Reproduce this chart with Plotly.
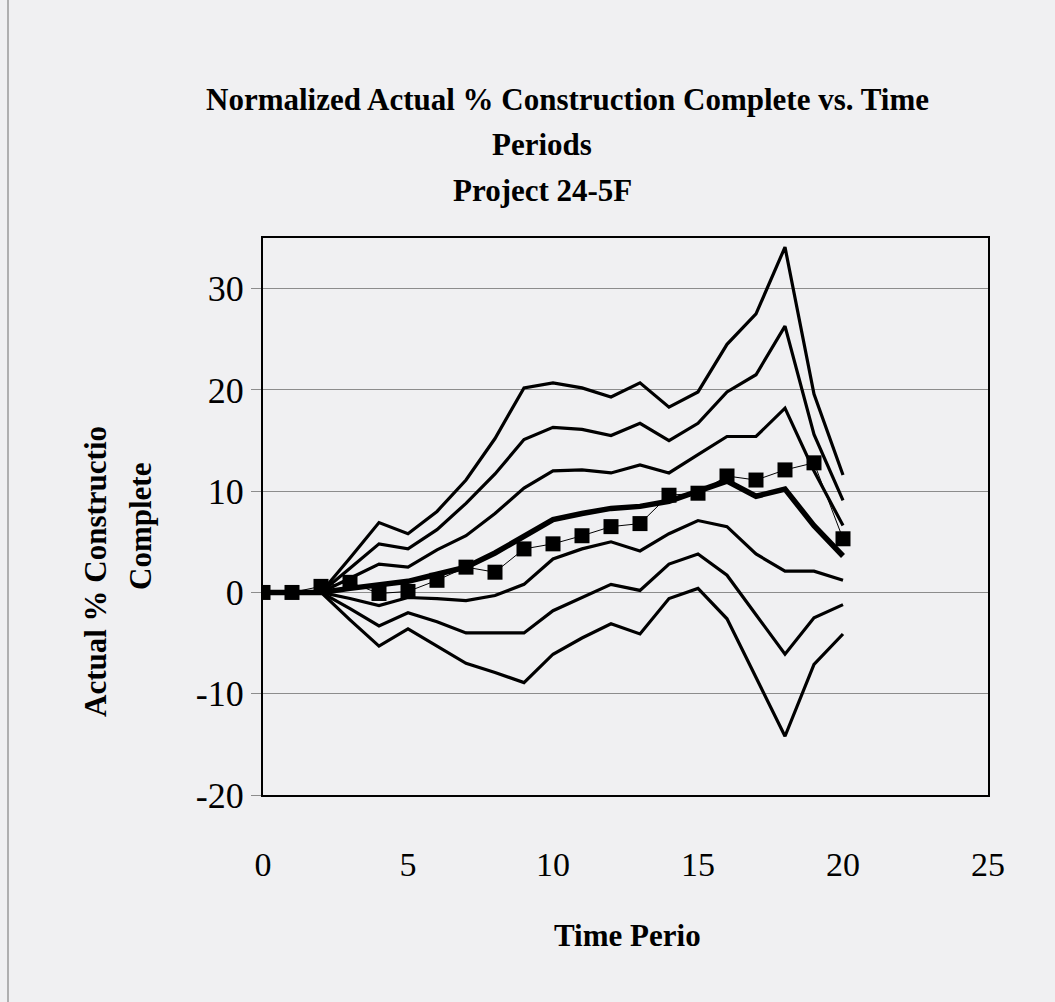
import plotly.graph_objects as go

# ---- data ----
periods = list(range(0, 21))

band_upper3 = [0, 0, 0, 3.4, 6.9, 5.8, 8.0, 11.1, 15.2, 20.2, 20.7, 20.2, 19.3, 20.7, 18.3, 19.8, 24.5, 27.5, 34.1, 19.6, 11.6]
band_upper2 = [0, 0, 0, 2.4, 4.8, 4.3, 6.2, 8.8, 11.7, 15.1, 16.3, 16.1, 15.5, 16.7, 15.0, 16.7, 19.8, 21.5, 26.3, 15.6, 9.1]
band_upper1 = [0, 0, 0, 1.4, 2.8, 2.5, 4.2, 5.6, 7.8, 10.3, 12.0, 12.1, 11.8, 12.6, 11.8, 13.6, 15.4, 15.4, 18.2, 12.0, 6.6]
mean_line = [0, 0, 0, 0.4, 0.8, 1.1, 1.8, 2.5, 3.9, 5.5, 7.2, 7.8, 8.3, 8.5, 9.0, 10.0, 11.0, 9.5, 10.2, 6.6, 3.6]
band_lower1 = [0, 0, 0, -0.6, -1.3, -0.5, -0.6, -0.8, -0.3, 0.8, 3.3, 4.3, 5.0, 4.1, 5.8, 7.1, 6.5, 3.8, 2.1, 2.1, 1.2]
band_lower2 = [0, 0, 0, -1.6, -3.3, -2.0, -2.9, -4.0, -4.0, -4.0, -1.8, -0.5, 0.8, 0.2, 2.8, 3.8, 1.7, -2.2, -6.1, -2.5, -1.2]
band_lower3 = [0, 0, 0, -2.7, -5.3, -3.6, -5.3, -7.0, -7.9, -8.9, -6.1, -4.5, -3.1, -4.1, -0.6, 0.4, -2.6, -8.4, -14.2, -7.1, -4.1]
actual = [0, 0, 0.6, 1.0, -0.1, 0.1, 1.2, 2.5, 2.0, 4.3, 4.8, 5.6, 6.5, 6.8, 9.6, 9.8, 11.5, 11.1, 12.1, 12.8, 5.3]

x_ticks = [0, 5, 10, 15, 20, 25]
y_ticks = [-20, -10, 0, 10, 20, 30]

title_lines = ["Normalized Actual % Construction Complete vs. Time", "Periods", "Project 24-5F"]
y_title_lines = ["Actual % Constructio", "Complete"]
x_title = "Time Perio"

FONT = "Liberation Serif, Times New Roman, serif"
BG = "#f0f0f2"

fig = go.Figure()

thin = [band_upper3, band_upper2, band_upper1, band_lower1, band_lower2, band_lower3]
names = ["+3", "+2", "+1", "-1", "-2", "-3"]
for nm, series in zip(names, thin):
    fig.add_trace(go.Scatter(x=periods, y=series, mode="lines", name=nm,
                             line=dict(color="black", width=3.2), showlegend=False))

fig.add_trace(go.Scatter(x=periods, y=mean_line, mode="lines", name="Mean",
                         line=dict(color="black", width=5.5), showlegend=False))

fig.add_trace(go.Scatter(x=periods, y=actual, mode="lines+markers", name="Actual",
                         line=dict(color="black", width=1),
                         marker=dict(symbol="square", size=15, color="black"),
                         showlegend=False))

L, R, T, B = 263, 67, 238, 207
W, H = 1055, 1002
pw = W - L - R
ph = H - T - B

def px_x(p):
    return (p - L) / pw

def px_y(p):
    return (H - B - p) / ph

annotations = [
    dict(text="<b>" + title_lines[0] + "</b>", x=px_x(567), y=px_y(100)),
    dict(text="<b>" + title_lines[1] + "</b>", x=px_x(542), y=px_y(145)),
    dict(text="<b>" + title_lines[2] + "</b>", x=px_x(542), y=px_y(190)),
    dict(text="<b>" + x_title + "</b>", x=px_x(627), y=px_y(935)),
    dict(text="<b>" + y_title_lines[0] + "</b>", x=px_x(95), y=px_y(572), textangle=-90),
    dict(text="<b>" + y_title_lines[1] + "</b>", x=px_x(140), y=px_y(527), textangle=-90),
]
for a in annotations:
    a.update(xref="paper", yref="paper", xanchor="center", yanchor="middle",
             showarrow=False, font=dict(family=FONT, size=31, color="black"))

fig.update_layout(
    width=W, height=H, autosize=False,
    margin=dict(l=L, r=R, t=T, b=B, pad=0),
    paper_bgcolor=BG, plot_bgcolor=BG,
    font=dict(family=FONT, color="black"),
    annotations=annotations,
    shapes=[dict(type="line", xref="paper", yref="paper",
                 x0=px_x(8), x1=px_x(8), y0=px_y(0), y1=px_y(1002),
                 line=dict(color="#9a9a9a", width=1.5))],
)

fig.update_xaxes(range=[0, 25], tickvals=x_ticks, ticktext=[str(v) for v in x_ticks],
                 showgrid=False, zeroline=False, showline=True, linecolor="black",
                 linewidth=2, mirror=True, ticks="", ticklabelstandoff=38,
                 tickfont=dict(family=FONT, size=34, color="black"))
fig.update_yaxes(range=[-20, 35], tickvals=y_ticks, ticktext=[str(v) for v in y_ticks],
                 showgrid=True, gridcolor="#8c8c8c", gridwidth=1,
                 zeroline=False, showline=True, linecolor="black", linewidth=2,
                 mirror=True, ticks="outside", ticklen=10, tickcolor="#8c8c8c",
                 tickwidth=1, tickfont=dict(family=FONT, size=36, color="black"))

fig.write_html("out.html", config={"displayModeBar": False},
               post_script="document.body.style.margin='0';")
